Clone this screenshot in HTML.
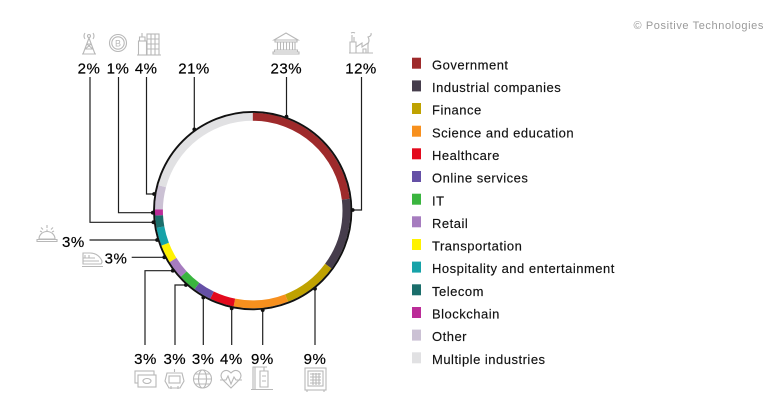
<!DOCTYPE html>
<html><head><meta charset="utf-8"><style>
html,body{margin:0;padding:0;background:#fff;}
svg{display:block;font-family:"Liberation Sans",sans-serif;}
</style></head><body>
<svg width="783" height="413" viewBox="0 0 783 413" xmlns="http://www.w3.org/2000/svg">
<rect width="783" height="413" fill="#fff"/>
<text x="764" y="29" font-size="11" fill="#9a9a9a" letter-spacing="0.6" text-anchor="end">© Positive Technologies</text>

<!-- ring -->
<g transform="rotate(-90 252.7 210.6)" fill="none" stroke-width="8">
<circle cx="252.7" cy="210.6" r="93.8" stroke="#9e2a2b" stroke-dasharray="135.84 600" stroke-dashoffset="0"/>
<circle cx="252.7" cy="210.6" r="93.8" stroke="#463d4c" stroke-dasharray="70.87 600" stroke-dashoffset="-135.84"/>
<circle cx="252.7" cy="210.6" r="93.8" stroke="#bfa200" stroke-dasharray="53.16 600" stroke-dashoffset="-206.72"/>
<circle cx="252.7" cy="210.6" r="93.8" stroke="#f7901e" stroke-dasharray="53.16 600" stroke-dashoffset="-259.87"/>
<circle cx="252.7" cy="210.6" r="93.8" stroke="#e30a1d" stroke-dasharray="23.62 600" stroke-dashoffset="-313.03"/>
<circle cx="252.7" cy="210.6" r="93.8" stroke="#6550a6" stroke-dasharray="17.72 600" stroke-dashoffset="-336.65"/>
<circle cx="252.7" cy="210.6" r="93.8" stroke="#3ab53f" stroke-dasharray="17.72 600" stroke-dashoffset="-354.37"/>
<circle cx="252.7" cy="210.6" r="93.8" stroke="#a67cbf" stroke-dasharray="17.72 600" stroke-dashoffset="-372.09"/>
<circle cx="252.7" cy="210.6" r="93.8" stroke="#fff200" stroke-dasharray="17.72 600" stroke-dashoffset="-389.81"/>
<circle cx="252.7" cy="210.6" r="93.8" stroke="#16a2a8" stroke-dasharray="17.72 600" stroke-dashoffset="-407.53"/>
<circle cx="252.7" cy="210.6" r="93.8" stroke="#1b6e6b" stroke-dasharray="11.81 600" stroke-dashoffset="-425.25"/>
<circle cx="252.7" cy="210.6" r="93.8" stroke="#bb2c98" stroke-dasharray="5.91 600" stroke-dashoffset="-437.06"/>
<circle cx="252.7" cy="210.6" r="93.8" stroke="#cbc1d4" stroke-dasharray="23.62 600" stroke-dashoffset="-442.97"/>
<circle cx="252.7" cy="210.6" r="93.8" stroke="#e1e1e3" stroke-dasharray="124.03 600" stroke-dashoffset="-466.59"/>
</g>
<circle cx="252.7" cy="210.6" r="98.7" fill="none" stroke="#111" stroke-width="1.9"/>

<!-- leader lines -->
<g fill="none" stroke="#1e1e1e" stroke-width="1.2">
<path d="M90,77 V222.3 H153.4"/>
<path d="M118.5,77 V212.7 H152.8"/>
<path d="M146.5,77 V194 H154.1"/>
<path d="M194.3,77 V129.4"/>
<path d="M286.5,77 V116.6"/>
<path d="M361.5,77 V210 H352.7"/>
<path d="M89.5,240 H157.1"/>
<path d="M131.7,257.3 H164.3"/>
<path d="M145,345 V270.7 H172.8"/>
<path d="M175,345 V285 H185.9"/>
<path d="M203.3,345 V297.5"/>
<path d="M231.7,345 V308.4"/>
<path d="M262.7,345 V310.1"/>
<path d="M315,345 V288.8"/>
</g>
<g fill="#111">
<circle cx="153.4" cy="222.3" r="1.9"/>
<circle cx="152.8" cy="212.7" r="1.9"/>
<circle cx="154.1" cy="194" r="1.9"/>
<circle cx="194.3" cy="129.4" r="1.9"/>
<circle cx="286.5" cy="116.6" r="1.9"/>
<circle cx="352.7" cy="210" r="1.9"/>
<circle cx="157.1" cy="240" r="1.9"/>
<circle cx="164.3" cy="257.3" r="1.9"/>
<circle cx="172.8" cy="270.7" r="1.9"/>
<circle cx="185.9" cy="285" r="1.9"/>
<circle cx="203.3" cy="297.5" r="1.9"/>
<circle cx="231.7" cy="308.4" r="1.9"/>
<circle cx="262.7" cy="310.1" r="1.9"/>
<circle cx="315" cy="288.8" r="1.9"/>
</g>

<!-- percent labels -->
<g font-size="15" fill="#000" stroke="#000" stroke-width="0.2" letter-spacing="0.5" text-anchor="middle">
<text x="89" y="73.3">2%</text>
<text x="118" y="73.3">1%</text>
<text x="146.2" y="73.3">4%</text>
<text x="194" y="73.3">21%</text>
<text x="286.3" y="73.3">23%</text>
<text x="361" y="73.3">12%</text>
<text x="73.4" y="247">3%</text>
<text x="116" y="263.5">3%</text>
<text x="145.5" y="364">3%</text>
<text x="174.8" y="364">3%</text>
<text x="203.2" y="364">3%</text>
<text x="231.4" y="364">4%</text>
<text x="262.4" y="364">9%</text>
<text x="315" y="364">9%</text>
</g>

<!-- icons -->
<g fill="none" stroke="#b8b8b8" stroke-width="1.1">
<!-- tower -->
<circle cx="89" cy="36" r="1.5"/>
<path d="M89,38 L83,54 M89,38 L95,54 M86.8,44 H91.2 M85.2,49 H92.8 M86.8,44 L92.8,49 M91.2,44 L85.2,49 M85,39 Q83,36 85,33 M93,39 Q95,36 93,33 M82,54 H96"/>
<!-- bitcoin -->
<circle cx="118" cy="43" r="8.5"/>
<circle cx="118" cy="43" r="6.2"/>
<!-- building -->
<rect x="138.5" y="41" width="8" height="14"/>
<path d="M139.5,41 V37 H145 V41 M142,37 V33"/>
<rect x="147" y="34" width="12" height="21"/>
<path d="M147,39 H159 M147,44 H159 M147,49 H159 M151,34 V55 M155,34 V55 M137,55 H161"/>
<!-- government -->
<path d="M274,40 L286,33 L298,40 Z M275,40 H297 V42 H275 Z M277.5,42 V50 M280.5,42 V50 M283.5,42 V50 M286.5,42 V50 M289.5,42 V50 M292.5,42 V50 M295,42 V50 M274.5,50 H297.5 V52 H274.5 Z M273,52 H299 V54 H273 Z"/>
<!-- factory -->
<path d="M349,53 H373 M350,53 V42 H356 V53 M352,42 V35 M354,42 V37 M356,47 L362,43 V47 L368,43 V53 M363,53 V49 H366 V53 M368,44 Q370,40 368,37 Q372,36 371,33 M351,33 Q353,32 355,33"/>
<!-- bell -->
<path d="M39,239 A8,7.5 0 0 1 55,239 Z M37,239.5 H57 V241.5 H37 Z M47,231.5 V229.5 M47,228 V225 M41,227.5 L43,229.5 M53,227.5 L51,229.5 M40,231 L42,232 M54,231 L52,232"/>
<!-- train -->
<path d="M82,266.5 H103 M83,264 H101 Q103,262 101,259 Q97,253 90,253 H83 Z M83,258 H95 M85,255 V258 M89,255 V258 M83,261 H99"/>
<!-- card -->
<rect x="135" y="371" width="19" height="12"/>
<rect x="138" y="375" width="18" height="12" fill="#fff"/>
<ellipse cx="147" cy="381" rx="4" ry="2.5"/>
<!-- robot -->
<path d="M174.5,369 V372 M167,373 H182 L184,381 L180,388 H169 L165,381 Z"/>
<rect x="169" y="376" width="11" height="7"/>
<path d="M171,386 V389 M178,386 V389"/>
<!-- globe -->
<circle cx="202.5" cy="379" r="9"/>
<ellipse cx="202.5" cy="379" rx="4" ry="9"/>
<path d="M193.5,379 H211.5 M195,374 H210 M195,384 H210"/>
<!-- heart -->
<path d="M231,388 L222.5,379.5 Q219.5,375.5 222.5,372 Q226.5,368.5 231,373 Q235.5,368.5 239.5,372 Q242.5,375.5 239.5,379.5 Z M220,380 H226 L228,376 L231,384 L234,377 L236,380 H242"/>
<!-- lab -->
<path d="M251,389.5 H273 M253,389.5 V367 H267 M255,367 V389.5 M264,367 V371 M260,371 H268 V387 H260 Z M262,376 H266 M262,381 H266"/>
<!-- safe -->
<rect x="305" y="368" width="21" height="22"/>
<rect x="308" y="371" width="15" height="15"/>
<path d="M310,374 H321 M310,377 H321 M310,380 H321 M310,383 H321 M313,373 V385 M316,373 V385 M319,373 V385 M307,390 V392 M324,390 V392"/>
</g>
<text x="118" y="46.3" font-size="9" fill="#b8b8b8" text-anchor="middle">B</text>

<!-- legend -->
<g>
<rect x="412" y="57.7" width="9" height="11" fill="#9e2a2b"/>
<rect x="412" y="80.4" width="9" height="11" fill="#463d4c"/>
<rect x="412" y="103" width="9" height="11" fill="#bfa200"/>
<rect x="412" y="125.7" width="9" height="11" fill="#f7901e"/>
<rect x="412" y="148.3" width="9" height="11" fill="#e30a1d"/>
<rect x="412" y="171" width="9" height="11" fill="#6550a6"/>
<rect x="412" y="193.7" width="9" height="11" fill="#3ab53f"/>
<rect x="412" y="216.3" width="9" height="11" fill="#a67cbf"/>
<rect x="412" y="239" width="9" height="11" fill="#fff200"/>
<rect x="412" y="261.6" width="9" height="11" fill="#16a2a8"/>
<rect x="412" y="284.3" width="9" height="11" fill="#1b6e6b"/>
<rect x="412" y="307" width="9" height="11" fill="#bb2c98"/>
<rect x="412" y="329.6" width="9" height="11" fill="#cbc1d4"/>
<rect x="412" y="352.3" width="9" height="11" fill="#e1e1e3"/>
</g>
<g font-size="13" fill="#111" stroke="#111" stroke-width="0.15" letter-spacing="0.5">
<text x="432" y="69.3">Government</text>
<text x="432" y="92">Industrial companies</text>
<text x="432" y="114.6">Finance</text>
<text x="432" y="137.3">Science and education</text>
<text x="432" y="159.9">Healthcare</text>
<text x="432" y="182.6">Online services</text>
<text x="432" y="205.3">IT</text>
<text x="432" y="227.9">Retail</text>
<text x="432" y="250.6">Transportation</text>
<text x="432" y="273.2">Hospitality and entertainment</text>
<text x="432" y="295.9">Telecom</text>
<text x="432" y="318.6">Blockchain</text>
<text x="432" y="341.2">Other</text>
<text x="432" y="363.9">Multiple industries</text>
</g>
</svg>
</body></html>
